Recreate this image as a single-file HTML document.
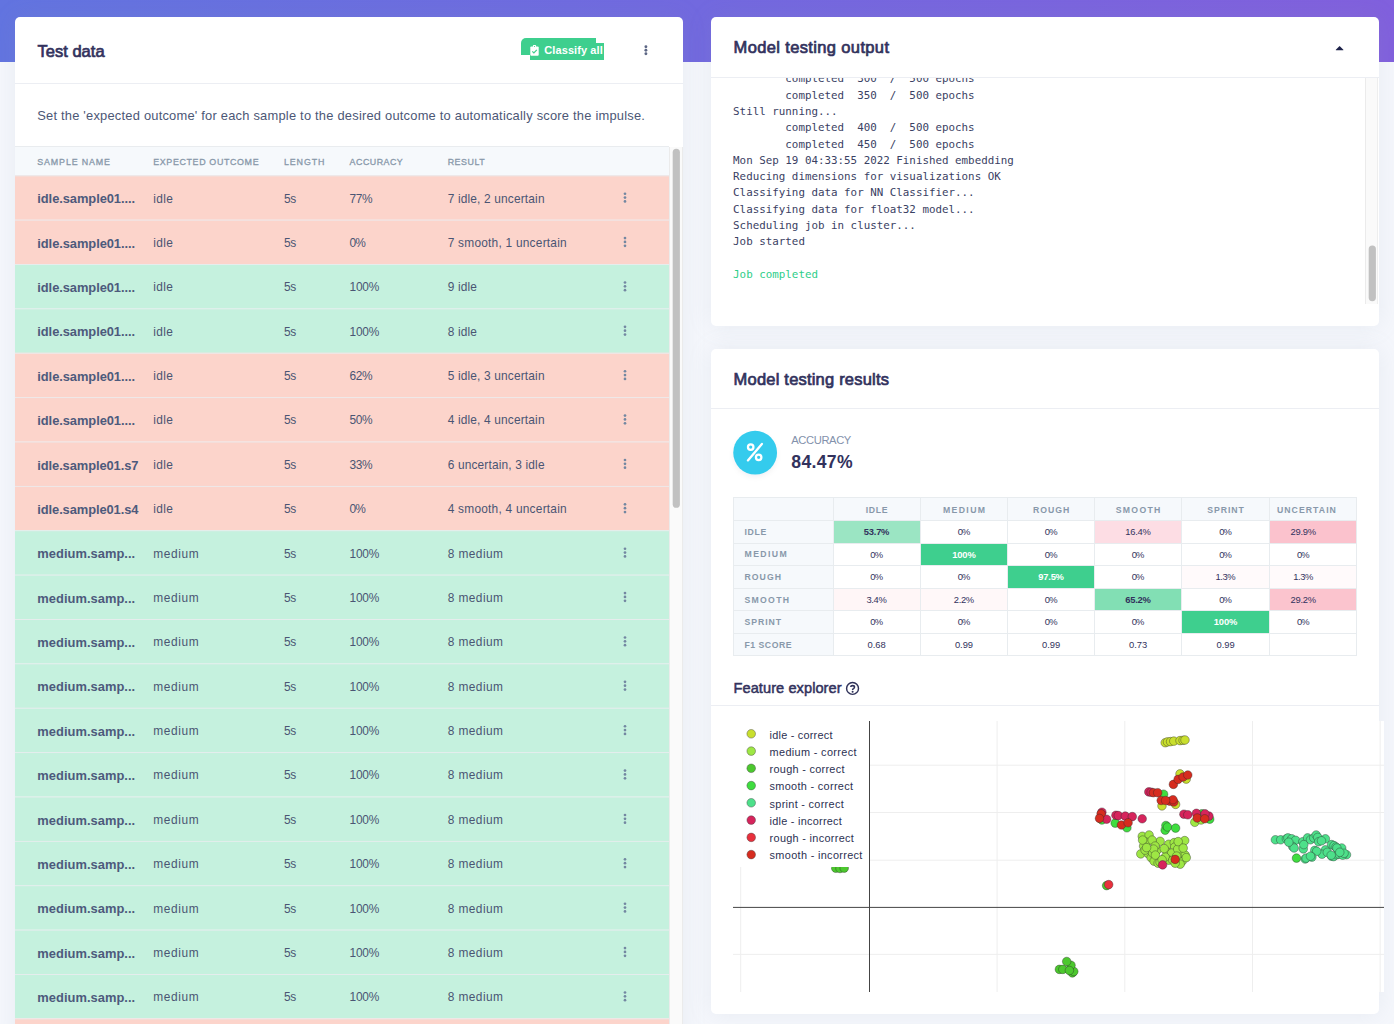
<!DOCTYPE html>
<html lang="en">
<head>
<meta charset="utf-8">
<title>Model testing</title>
<style>
*{box-sizing:border-box;margin:0;padding:0}
html,body{width:1394px;height:1024px;overflow:hidden}
body{position:relative;background:#f5f7fc;font-family:"Liberation Sans",sans-serif;color:#525f7f}
.hero{position:absolute;left:0;top:0;width:1394px;height:62.2px;background:linear-gradient(90deg,#6274e0 0%,#7269df 50%,#8160dd 100%)}
.card{position:absolute;background:#fff;border-radius:5px;box-shadow:0 0 24px 0 rgba(136,152,170,.13)}
.t{position:absolute;white-space:pre;line-height:1;display:block}
.m{font-family:"DejaVu Sans Mono","Liberation Mono",monospace}
.hr{position:absolute;height:1px;background:#eceef3}
.abs{position:absolute}
</style>
</head>
<body>
<div class="hero"></div>

<div class="card" style="left:15px;top:17px;width:668px;height:1030px;border-radius:5px 5px 0 0"></div>
<span class="t" style="left:37.60px;top:43px;font-size:16.5px;color:#32325d;-webkit-text-stroke:0.7px #32325d;">Test data</span>
<div class="abs" style="left:521px;top:38px;width:75px;height:17px;background:#3ecf8e;border-radius:5px 0 0 0"></div>
<div class="abs" style="left:529.5px;top:42.6px;width:74.5px;height:17px;background:#3ecf8e"></div>
<svg class="abs" style="left:530px;top:44.5px" width="9" height="11" viewBox="0 0 9 11"><rect x="0.3" y="1.4" width="8.4" height="9.3" rx="1" fill="#fff"/><rect x="2.9" y="0" width="3.2" height="2.6" rx="0.8" fill="#fff"/><circle cx="4.5" cy="1.5" r="0.6" fill="#3ecf8e"/><path d="M2.3 6.3 L3.9 7.9 L6.8 4.8" fill="none" stroke="#3ecf8e" stroke-width="1.2"/></svg>
<span class="t" style="left:544.30px;top:45px;font-size:11px;color:#fff;font-weight:700;letter-spacing:0.092px;">Classify all</span>
<svg class="abs" style="left:642px;top:43px" width="8" height="14" viewBox="0 0 8 14"><g fill="#5d6785"><circle cx="3.9" cy="3.7" r="1.45"/><circle cx="3.9" cy="7.2" r="1.45"/><circle cx="3.9" cy="10.7" r="1.45"/></g></svg>
<div class="hr" style="left:15px;top:82.7px;width:668px"></div>
<span class="t" style="left:37.20px;top:110px;font-size:12.9px;color:#4c5776;letter-spacing:0.217px;">Set the &#x27;expected outcome&#x27; for each sample to the desired outcome to automatically score the impulse.</span>
<div class="abs" style="left:15px;top:146px;width:654.3px;height:30px;background:#f6f9fc;border-top:1px solid #e9ecef"></div>
<span class="t" style="left:37.30px;top:158px;font-size:8.9px;color:#8898aa;-webkit-text-stroke:0.3px #8898aa;letter-spacing:0.858px;">SAMPLE NAME</span>
<span class="t" style="left:153.20px;top:158px;font-size:8.9px;color:#8898aa;-webkit-text-stroke:0.3px #8898aa;letter-spacing:0.649px;">EXPECTED OUTCOME</span>
<span class="t" style="left:284.00px;top:158px;font-size:8.9px;color:#8898aa;-webkit-text-stroke:0.3px #8898aa;letter-spacing:0.880px;">LENGTH</span>
<span class="t" style="left:349.60px;top:158px;font-size:8.9px;color:#8898aa;-webkit-text-stroke:0.3px #8898aa;letter-spacing:0.484px;">ACCURACY</span>
<span class="t" style="left:447.70px;top:158px;font-size:8.9px;color:#8898aa;-webkit-text-stroke:0.3px #8898aa;letter-spacing:0.508px;">RESULT</span>
<svg class="abs" style="left:15px;top:170px" width="654.3" height="854" viewBox="15 170 654.3 854"><rect x="15" y="175.30" width="654.3" height="44.474" fill="#fcd4cb"/><rect x="15" y="175.30" width="654.3" height="1" fill="#e9ecef"/><g fill="#7387a1"><circle cx="625" cy="193.75" r="1.35"/><circle cx="625" cy="197.60" r="1.35"/><circle cx="625" cy="201.45" r="1.35"/></g><rect x="15" y="219.67" width="654.3" height="44.474" fill="#fcd4cb"/><rect x="15" y="219.67" width="654.3" height="0.92" fill="rgba(234,237,240,.92)"/><g fill="#7387a1"><circle cx="625" cy="238.12" r="1.35"/><circle cx="625" cy="241.97" r="1.35"/><circle cx="625" cy="245.82" r="1.35"/></g><rect x="15" y="264.05" width="654.3" height="44.474" fill="#c5f1de"/><rect x="15" y="264.05" width="654.3" height="0.92" fill="rgba(234,237,240,.92)"/><g fill="#7387a1"><circle cx="625" cy="282.50" r="1.35"/><circle cx="625" cy="286.35" r="1.35"/><circle cx="625" cy="290.20" r="1.35"/></g><rect x="15" y="308.42" width="654.3" height="44.474" fill="#c5f1de"/><rect x="15" y="308.42" width="654.3" height="0.92" fill="rgba(234,237,240,.92)"/><g fill="#7387a1"><circle cx="625" cy="326.87" r="1.35"/><circle cx="625" cy="330.72" r="1.35"/><circle cx="625" cy="334.57" r="1.35"/></g><rect x="15" y="352.80" width="654.3" height="44.474" fill="#fcd4cb"/><rect x="15" y="352.80" width="654.3" height="0.92" fill="rgba(234,237,240,.92)"/><g fill="#7387a1"><circle cx="625" cy="371.25" r="1.35"/><circle cx="625" cy="375.10" r="1.35"/><circle cx="625" cy="378.95" r="1.35"/></g><rect x="15" y="397.17" width="654.3" height="44.474" fill="#fcd4cb"/><rect x="15" y="397.17" width="654.3" height="0.92" fill="rgba(234,237,240,.92)"/><g fill="#7387a1"><circle cx="625" cy="415.62" r="1.35"/><circle cx="625" cy="419.47" r="1.35"/><circle cx="625" cy="423.32" r="1.35"/></g><rect x="15" y="441.54" width="654.3" height="44.474" fill="#fcd4cb"/><rect x="15" y="441.54" width="654.3" height="0.92" fill="rgba(234,237,240,.92)"/><g fill="#7387a1"><circle cx="625" cy="459.99" r="1.35"/><circle cx="625" cy="463.84" r="1.35"/><circle cx="625" cy="467.69" r="1.35"/></g><rect x="15" y="485.92" width="654.3" height="44.474" fill="#fcd4cb"/><rect x="15" y="485.92" width="654.3" height="0.92" fill="rgba(234,237,240,.92)"/><g fill="#7387a1"><circle cx="625" cy="504.37" r="1.35"/><circle cx="625" cy="508.22" r="1.35"/><circle cx="625" cy="512.07" r="1.35"/></g><rect x="15" y="530.29" width="654.3" height="44.474" fill="#c5f1de"/><rect x="15" y="530.29" width="654.3" height="0.92" fill="rgba(234,237,240,.92)"/><g fill="#7387a1"><circle cx="625" cy="548.74" r="1.35"/><circle cx="625" cy="552.59" r="1.35"/><circle cx="625" cy="556.44" r="1.35"/></g><rect x="15" y="574.67" width="654.3" height="44.474" fill="#c5f1de"/><rect x="15" y="574.67" width="654.3" height="0.92" fill="rgba(234,237,240,.92)"/><g fill="#7387a1"><circle cx="625" cy="593.12" r="1.35"/><circle cx="625" cy="596.97" r="1.35"/><circle cx="625" cy="600.82" r="1.35"/></g><rect x="15" y="619.04" width="654.3" height="44.474" fill="#c5f1de"/><rect x="15" y="619.04" width="654.3" height="0.92" fill="rgba(234,237,240,.92)"/><g fill="#7387a1"><circle cx="625" cy="637.49" r="1.35"/><circle cx="625" cy="641.34" r="1.35"/><circle cx="625" cy="645.19" r="1.35"/></g><rect x="15" y="663.41" width="654.3" height="44.474" fill="#c5f1de"/><rect x="15" y="663.41" width="654.3" height="0.92" fill="rgba(234,237,240,.92)"/><g fill="#7387a1"><circle cx="625" cy="681.86" r="1.35"/><circle cx="625" cy="685.71" r="1.35"/><circle cx="625" cy="689.56" r="1.35"/></g><rect x="15" y="707.79" width="654.3" height="44.474" fill="#c5f1de"/><rect x="15" y="707.79" width="654.3" height="0.92" fill="rgba(234,237,240,.92)"/><g fill="#7387a1"><circle cx="625" cy="726.24" r="1.35"/><circle cx="625" cy="730.09" r="1.35"/><circle cx="625" cy="733.94" r="1.35"/></g><rect x="15" y="752.16" width="654.3" height="44.474" fill="#c5f1de"/><rect x="15" y="752.16" width="654.3" height="0.92" fill="rgba(234,237,240,.92)"/><g fill="#7387a1"><circle cx="625" cy="770.61" r="1.35"/><circle cx="625" cy="774.46" r="1.35"/><circle cx="625" cy="778.31" r="1.35"/></g><rect x="15" y="796.54" width="654.3" height="44.474" fill="#c5f1de"/><rect x="15" y="796.54" width="654.3" height="0.92" fill="rgba(234,237,240,.92)"/><g fill="#7387a1"><circle cx="625" cy="814.99" r="1.35"/><circle cx="625" cy="818.84" r="1.35"/><circle cx="625" cy="822.69" r="1.35"/></g><rect x="15" y="840.91" width="654.3" height="44.474" fill="#c5f1de"/><rect x="15" y="840.91" width="654.3" height="0.92" fill="rgba(234,237,240,.92)"/><g fill="#7387a1"><circle cx="625" cy="859.36" r="1.35"/><circle cx="625" cy="863.21" r="1.35"/><circle cx="625" cy="867.06" r="1.35"/></g><rect x="15" y="885.28" width="654.3" height="44.474" fill="#c5f1de"/><rect x="15" y="885.28" width="654.3" height="0.92" fill="rgba(234,237,240,.92)"/><g fill="#7387a1"><circle cx="625" cy="903.73" r="1.35"/><circle cx="625" cy="907.58" r="1.35"/><circle cx="625" cy="911.43" r="1.35"/></g><rect x="15" y="929.66" width="654.3" height="44.474" fill="#c5f1de"/><rect x="15" y="929.66" width="654.3" height="0.92" fill="rgba(234,237,240,.92)"/><g fill="#7387a1"><circle cx="625" cy="948.11" r="1.35"/><circle cx="625" cy="951.96" r="1.35"/><circle cx="625" cy="955.81" r="1.35"/></g><rect x="15" y="974.03" width="654.3" height="44.474" fill="#c5f1de"/><rect x="15" y="974.03" width="654.3" height="0.92" fill="rgba(234,237,240,.92)"/><g fill="#7387a1"><circle cx="625" cy="992.48" r="1.35"/><circle cx="625" cy="996.33" r="1.35"/><circle cx="625" cy="1000.18" r="1.35"/></g><rect x="15" y="1018.41" width="654.3" height="44.474" fill="#fcd4cb"/><rect x="15" y="1018.41" width="654.3" height="0.92" fill="rgba(234,237,240,.92)"/></svg>
<span class="t" style="left:37.30px;top:193px;font-size:12.9px;color:#4d5a7c;font-weight:700;letter-spacing:-0.068px;">idle.sample01....</span>
<span class="t" style="left:153.20px;top:194px;font-size:11.9px;color:#4a5573;letter-spacing:0.362px;">idle</span>
<span class="t" style="left:284.00px;top:194px;font-size:11.9px;color:#4a5573;letter-spacing:-0.323px;">5s</span>
<span class="t" style="left:349.60px;top:194px;font-size:11.9px;color:#4a5573;letter-spacing:-0.430px;">77%</span>
<span class="t" style="left:447.70px;top:194px;font-size:11.9px;color:#4a5573;letter-spacing:0.164px;">7 idle, 2 uncertain</span>
<span class="t" style="left:37.30px;top:238px;font-size:12.9px;color:#4d5a7c;font-weight:700;letter-spacing:-0.068px;">idle.sample01....</span>
<span class="t" style="left:153.20px;top:238px;font-size:11.9px;color:#4a5573;letter-spacing:0.362px;">idle</span>
<span class="t" style="left:284.00px;top:238px;font-size:11.9px;color:#4a5573;letter-spacing:-0.323px;">5s</span>
<span class="t" style="left:349.60px;top:238px;font-size:11.9px;color:#4a5573;letter-spacing:-0.908px;">0%</span>
<span class="t" style="left:447.70px;top:238px;font-size:11.9px;color:#4a5573;letter-spacing:0.233px;">7 smooth, 1 uncertain</span>
<span class="t" style="left:37.30px;top:282px;font-size:12.9px;color:#4d5a7c;font-weight:700;letter-spacing:-0.068px;">idle.sample01....</span>
<span class="t" style="left:153.20px;top:282px;font-size:11.9px;color:#4a5573;letter-spacing:0.362px;">idle</span>
<span class="t" style="left:284.00px;top:282px;font-size:11.9px;color:#4a5573;letter-spacing:-0.323px;">5s</span>
<span class="t" style="left:349.60px;top:282px;font-size:11.9px;color:#4a5573;letter-spacing:-0.266px;">100%</span>
<span class="t" style="left:447.70px;top:282px;font-size:11.9px;color:#4a5573;letter-spacing:0.174px;">9 idle</span>
<span class="t" style="left:37.30px;top:326px;font-size:12.9px;color:#4d5a7c;font-weight:700;letter-spacing:-0.068px;">idle.sample01....</span>
<span class="t" style="left:153.20px;top:327px;font-size:11.9px;color:#4a5573;letter-spacing:0.362px;">idle</span>
<span class="t" style="left:284.00px;top:327px;font-size:11.9px;color:#4a5573;letter-spacing:-0.323px;">5s</span>
<span class="t" style="left:349.60px;top:327px;font-size:11.9px;color:#4a5573;letter-spacing:-0.266px;">100%</span>
<span class="t" style="left:447.70px;top:327px;font-size:11.9px;color:#4a5573;letter-spacing:0.174px;">8 idle</span>
<span class="t" style="left:37.30px;top:371px;font-size:12.9px;color:#4d5a7c;font-weight:700;letter-spacing:-0.068px;">idle.sample01....</span>
<span class="t" style="left:153.20px;top:371px;font-size:11.9px;color:#4a5573;letter-spacing:0.362px;">idle</span>
<span class="t" style="left:284.00px;top:371px;font-size:11.9px;color:#4a5573;letter-spacing:-0.323px;">5s</span>
<span class="t" style="left:349.60px;top:371px;font-size:11.9px;color:#4a5573;letter-spacing:-0.430px;">62%</span>
<span class="t" style="left:447.70px;top:371px;font-size:11.9px;color:#4a5573;letter-spacing:0.164px;">5 idle, 3 uncertain</span>
<span class="t" style="left:37.30px;top:415px;font-size:12.9px;color:#4d5a7c;font-weight:700;letter-spacing:-0.068px;">idle.sample01....</span>
<span class="t" style="left:153.20px;top:415px;font-size:11.9px;color:#4a5573;letter-spacing:0.362px;">idle</span>
<span class="t" style="left:284.00px;top:415px;font-size:11.9px;color:#4a5573;letter-spacing:-0.323px;">5s</span>
<span class="t" style="left:349.60px;top:415px;font-size:11.9px;color:#4a5573;letter-spacing:-0.430px;">50%</span>
<span class="t" style="left:447.70px;top:415px;font-size:11.9px;color:#4a5573;letter-spacing:0.164px;">4 idle, 4 uncertain</span>
<span class="t" style="left:37.30px;top:460px;font-size:12.9px;color:#4d5a7c;font-weight:700;letter-spacing:-0.092px;">idle.sample01.s7</span>
<span class="t" style="left:153.20px;top:460px;font-size:11.9px;color:#4a5573;letter-spacing:0.362px;">idle</span>
<span class="t" style="left:284.00px;top:460px;font-size:11.9px;color:#4a5573;letter-spacing:-0.323px;">5s</span>
<span class="t" style="left:349.60px;top:460px;font-size:11.9px;color:#4a5573;letter-spacing:-0.430px;">33%</span>
<span class="t" style="left:447.70px;top:460px;font-size:11.9px;color:#4a5573;letter-spacing:0.164px;">6 uncertain, 3 idle</span>
<span class="t" style="left:37.30px;top:504px;font-size:12.9px;color:#4d5a7c;font-weight:700;letter-spacing:-0.092px;">idle.sample01.s4</span>
<span class="t" style="left:153.20px;top:504px;font-size:11.9px;color:#4a5573;letter-spacing:0.362px;">idle</span>
<span class="t" style="left:284.00px;top:504px;font-size:11.9px;color:#4a5573;letter-spacing:-0.323px;">5s</span>
<span class="t" style="left:349.60px;top:504px;font-size:11.9px;color:#4a5573;letter-spacing:-0.908px;">0%</span>
<span class="t" style="left:447.70px;top:504px;font-size:11.9px;color:#4a5573;letter-spacing:0.233px;">4 smooth, 4 uncertain</span>
<span class="t" style="left:37.30px;top:548px;font-size:12.9px;color:#4d5a7c;font-weight:700;letter-spacing:0.028px;">medium.samp...</span>
<span class="t" style="left:153.20px;top:549px;font-size:11.9px;color:#4a5573;letter-spacing:0.645px;">medium</span>
<span class="t" style="left:284.00px;top:549px;font-size:11.9px;color:#4a5573;letter-spacing:-0.323px;">5s</span>
<span class="t" style="left:349.60px;top:549px;font-size:11.9px;color:#4a5573;letter-spacing:-0.266px;">100%</span>
<span class="t" style="left:447.70px;top:549px;font-size:11.9px;color:#4a5573;letter-spacing:0.430px;">8 medium</span>
<span class="t" style="left:37.30px;top:593px;font-size:12.9px;color:#4d5a7c;font-weight:700;letter-spacing:0.028px;">medium.samp...</span>
<span class="t" style="left:153.20px;top:593px;font-size:11.9px;color:#4a5573;letter-spacing:0.645px;">medium</span>
<span class="t" style="left:284.00px;top:593px;font-size:11.9px;color:#4a5573;letter-spacing:-0.323px;">5s</span>
<span class="t" style="left:349.60px;top:593px;font-size:11.9px;color:#4a5573;letter-spacing:-0.266px;">100%</span>
<span class="t" style="left:447.70px;top:593px;font-size:11.9px;color:#4a5573;letter-spacing:0.430px;">8 medium</span>
<span class="t" style="left:37.30px;top:637px;font-size:12.9px;color:#4d5a7c;font-weight:700;letter-spacing:0.028px;">medium.samp...</span>
<span class="t" style="left:153.20px;top:637px;font-size:11.9px;color:#4a5573;letter-spacing:0.645px;">medium</span>
<span class="t" style="left:284.00px;top:637px;font-size:11.9px;color:#4a5573;letter-spacing:-0.323px;">5s</span>
<span class="t" style="left:349.60px;top:637px;font-size:11.9px;color:#4a5573;letter-spacing:-0.266px;">100%</span>
<span class="t" style="left:447.70px;top:637px;font-size:11.9px;color:#4a5573;letter-spacing:0.430px;">8 medium</span>
<span class="t" style="left:37.30px;top:681px;font-size:12.9px;color:#4d5a7c;font-weight:700;letter-spacing:0.028px;">medium.samp...</span>
<span class="t" style="left:153.20px;top:682px;font-size:11.9px;color:#4a5573;letter-spacing:0.645px;">medium</span>
<span class="t" style="left:284.00px;top:682px;font-size:11.9px;color:#4a5573;letter-spacing:-0.323px;">5s</span>
<span class="t" style="left:349.60px;top:682px;font-size:11.9px;color:#4a5573;letter-spacing:-0.266px;">100%</span>
<span class="t" style="left:447.70px;top:682px;font-size:11.9px;color:#4a5573;letter-spacing:0.430px;">8 medium</span>
<span class="t" style="left:37.30px;top:726px;font-size:12.9px;color:#4d5a7c;font-weight:700;letter-spacing:0.028px;">medium.samp...</span>
<span class="t" style="left:153.20px;top:726px;font-size:11.9px;color:#4a5573;letter-spacing:0.645px;">medium</span>
<span class="t" style="left:284.00px;top:726px;font-size:11.9px;color:#4a5573;letter-spacing:-0.323px;">5s</span>
<span class="t" style="left:349.60px;top:726px;font-size:11.9px;color:#4a5573;letter-spacing:-0.266px;">100%</span>
<span class="t" style="left:447.70px;top:726px;font-size:11.9px;color:#4a5573;letter-spacing:0.430px;">8 medium</span>
<span class="t" style="left:37.30px;top:770px;font-size:12.9px;color:#4d5a7c;font-weight:700;letter-spacing:0.028px;">medium.samp...</span>
<span class="t" style="left:153.20px;top:770px;font-size:11.9px;color:#4a5573;letter-spacing:0.645px;">medium</span>
<span class="t" style="left:284.00px;top:770px;font-size:11.9px;color:#4a5573;letter-spacing:-0.323px;">5s</span>
<span class="t" style="left:349.60px;top:770px;font-size:11.9px;color:#4a5573;letter-spacing:-0.266px;">100%</span>
<span class="t" style="left:447.70px;top:770px;font-size:11.9px;color:#4a5573;letter-spacing:0.430px;">8 medium</span>
<span class="t" style="left:37.30px;top:815px;font-size:12.9px;color:#4d5a7c;font-weight:700;letter-spacing:0.028px;">medium.samp...</span>
<span class="t" style="left:153.20px;top:815px;font-size:11.9px;color:#4a5573;letter-spacing:0.645px;">medium</span>
<span class="t" style="left:284.00px;top:815px;font-size:11.9px;color:#4a5573;letter-spacing:-0.323px;">5s</span>
<span class="t" style="left:349.60px;top:815px;font-size:11.9px;color:#4a5573;letter-spacing:-0.266px;">100%</span>
<span class="t" style="left:447.70px;top:815px;font-size:11.9px;color:#4a5573;letter-spacing:0.430px;">8 medium</span>
<span class="t" style="left:37.30px;top:859px;font-size:12.9px;color:#4d5a7c;font-weight:700;letter-spacing:0.028px;">medium.samp...</span>
<span class="t" style="left:153.20px;top:859px;font-size:11.9px;color:#4a5573;letter-spacing:0.645px;">medium</span>
<span class="t" style="left:284.00px;top:859px;font-size:11.9px;color:#4a5573;letter-spacing:-0.323px;">5s</span>
<span class="t" style="left:349.60px;top:859px;font-size:11.9px;color:#4a5573;letter-spacing:-0.266px;">100%</span>
<span class="t" style="left:447.70px;top:859px;font-size:11.9px;color:#4a5573;letter-spacing:0.430px;">8 medium</span>
<span class="t" style="left:37.30px;top:903px;font-size:12.9px;color:#4d5a7c;font-weight:700;letter-spacing:0.028px;">medium.samp...</span>
<span class="t" style="left:153.20px;top:904px;font-size:11.9px;color:#4a5573;letter-spacing:0.645px;">medium</span>
<span class="t" style="left:284.00px;top:904px;font-size:11.9px;color:#4a5573;letter-spacing:-0.323px;">5s</span>
<span class="t" style="left:349.60px;top:904px;font-size:11.9px;color:#4a5573;letter-spacing:-0.266px;">100%</span>
<span class="t" style="left:447.70px;top:904px;font-size:11.9px;color:#4a5573;letter-spacing:0.430px;">8 medium</span>
<span class="t" style="left:37.30px;top:948px;font-size:12.9px;color:#4d5a7c;font-weight:700;letter-spacing:0.028px;">medium.samp...</span>
<span class="t" style="left:153.20px;top:948px;font-size:11.9px;color:#4a5573;letter-spacing:0.645px;">medium</span>
<span class="t" style="left:284.00px;top:948px;font-size:11.9px;color:#4a5573;letter-spacing:-0.323px;">5s</span>
<span class="t" style="left:349.60px;top:948px;font-size:11.9px;color:#4a5573;letter-spacing:-0.266px;">100%</span>
<span class="t" style="left:447.70px;top:948px;font-size:11.9px;color:#4a5573;letter-spacing:0.430px;">8 medium</span>
<span class="t" style="left:37.30px;top:992px;font-size:12.9px;color:#4d5a7c;font-weight:700;letter-spacing:0.028px;">medium.samp...</span>
<span class="t" style="left:153.20px;top:992px;font-size:11.9px;color:#4a5573;letter-spacing:0.645px;">medium</span>
<span class="t" style="left:284.00px;top:992px;font-size:11.9px;color:#4a5573;letter-spacing:-0.323px;">5s</span>
<span class="t" style="left:349.60px;top:992px;font-size:11.9px;color:#4a5573;letter-spacing:-0.266px;">100%</span>
<span class="t" style="left:447.70px;top:992px;font-size:11.9px;color:#4a5573;letter-spacing:0.430px;">8 medium</span>
<div class="abs" style="left:669.4px;top:146.6px;width:13.4px;height:900px;background:#fafafa;border-left:1px solid #ebebeb;border-right:1px solid #ebebeb"></div>
<svg class="abs" style="left:669px;top:146px" width="14" height="364" viewBox="669 146 14 364"><rect x="672.7" y="148.75" width="7.2" height="359" rx="3.6" fill="#c1c1c1"/></svg>
<div class="card" style="left:711px;top:17px;width:668.4px;height:308.8px"></div>
<span class="t" style="left:733.60px;top:39px;font-size:16.5px;color:#32325d;-webkit-text-stroke:0.7px #32325d;letter-spacing:0.357px;">Model testing output</span>
<svg class="abs" style="left:1335px;top:45px" width="9" height="6" viewBox="-0.6 -0.4 9 6"><path d="M0.2 4.4 L4 0.5 L7.8 4.4 Q7.9 4.9 7.4 4.9 L0.6 4.9 Q0.1 4.9 0.2 4.4Z" fill="#1d2249"/></svg>
<div class="hr" style="left:711px;top:77.2px;width:668.4px"></div>
<div class="abs" style="left:711px;top:78px;width:654px;height:225.7px;overflow:hidden">
<span class="t m" style="left:22.1px;top:-4px;font-size:10.85px;color:#3a4163">        completed  300  /  500 epochs</span>
<span class="t m" style="left:22.1px;top:13px;font-size:10.85px;color:#3a4163">        completed  350  /  500 epochs</span>
<span class="t m" style="left:22.1px;top:29px;font-size:10.85px;color:#3a4163">Still running...</span>
<span class="t m" style="left:22.1px;top:45px;font-size:10.85px;color:#3a4163">        completed  400  /  500 epochs</span>
<span class="t m" style="left:22.1px;top:62px;font-size:10.85px;color:#3a4163">        completed  450  /  500 epochs</span>
<span class="t m" style="left:22.1px;top:78px;font-size:10.85px;color:#3a4163">Mon Sep 19 04:33:55 2022 Finished embedding</span>
<span class="t m" style="left:22.1px;top:94px;font-size:10.85px;color:#3a4163">Reducing dimensions for visualizations OK</span>
<span class="t m" style="left:22.1px;top:110px;font-size:10.85px;color:#3a4163">Classifying data for NN Classifier...</span>
<span class="t m" style="left:22.1px;top:127px;font-size:10.85px;color:#3a4163">Classifying data for float32 model...</span>
<span class="t m" style="left:22.1px;top:143px;font-size:10.85px;color:#3a4163">Scheduling job in cluster...</span>
<span class="t m" style="left:22.1px;top:159px;font-size:10.85px;color:#3a4163">Job started</span>
<span class="t m" style="left:22.1px;top:192px;font-size:10.85px;color:#2dce89">Job completed</span>
</div>
<div class="abs" style="left:1365px;top:78.2px;width:13.4px;height:225.5px;background:#fafafa;border-left:1px solid #ebebeb;border-right:1px solid #eee"></div>
<svg class="abs" style="left:1366px;top:240px" width="13" height="66" viewBox="1366 240 13 66"><rect x="1368.7" y="245.4" width="7.2" height="55.8" rx="3.6" fill="#c1c1c1"/></svg>
<div class="card" style="left:711px;top:349.2px;width:668.4px;height:664.4px"></div>
<span class="t" style="left:733.60px;top:371px;font-size:16.5px;color:#32325d;-webkit-text-stroke:0.7px #32325d;letter-spacing:0.204px;">Model testing results</span>
<div class="hr" style="left:711px;top:407.7px;width:668.4px"></div>
<svg class="abs" style="left:725px;top:423px" width="62" height="62" viewBox="725 423 62 62"><defs><filter id="sh" x="-40%" y="-40%" width="180%" height="180%"><feGaussianBlur stdDeviation="3.2"/></filter></defs><circle cx="755.1" cy="455.5" r="20" fill="rgba(50,50,93,.09)" filter="url(#sh)"/><circle cx="755.15" cy="452.7" r="21.9" fill="#34cbed"/><g fill="none" stroke="#fff" stroke-width="2.25"><circle cx="750.7" cy="447" r="2.75"/><circle cx="758.65" cy="457.3" r="2.75"/><path d="M761.9 443.9 L747.9 460.4" stroke-linecap="round" stroke-width="2.3"/></g></svg>
<span class="t" style="left:791.30px;top:435px;font-size:11.2px;color:#8391ab;letter-spacing:-0.400px;">ACCURACY</span>
<span class="t" style="left:791.30px;top:454px;font-size:17.6px;color:#32325d;font-weight:700;letter-spacing:0.326px;">84.47%</span>
<div class="abs" style="left:733.4px;top:497.6px;width:623.2px;height:22.9px;background:#f6f9fc"></div>
<div class="abs" style="left:733.4px;top:497.6px;width:99.7px;height:158.3px;background:#f6f9fc"></div>
<div class="abs" style="left:833.6px;top:521.0px;width:87.1px;height:22.5px;background:#9be5c3"></div>
<div class="abs" style="left:1095.0px;top:521.0px;width:87.1px;height:22.5px;background:#fddde4"></div>
<div class="abs" style="left:1270.0px;top:521.0px;width:87.1px;height:22.5px;background:#fbc2cd"></div>
<div class="abs" style="left:920.7px;top:543.5px;width:87.6px;height:22.7px;background:#3ecf8e"></div>
<div class="abs" style="left:1008.3px;top:566.2px;width:86.7px;height:22.4px;background:#3ecf8e"></div>
<div class="abs" style="left:1182.1px;top:566.2px;width:87.9px;height:22.4px;background:#fffafb"></div>
<div class="abs" style="left:1270.0px;top:566.2px;width:87.1px;height:22.4px;background:#fffafb"></div>
<div class="abs" style="left:833.6px;top:588.6px;width:87.1px;height:22.4px;background:#fff6f7"></div>
<div class="abs" style="left:920.7px;top:588.6px;width:87.6px;height:22.4px;background:#fff8f9"></div>
<div class="abs" style="left:1095.0px;top:588.6px;width:87.1px;height:22.4px;background:#82dfb4"></div>
<div class="abs" style="left:1270.0px;top:588.6px;width:87.1px;height:22.4px;background:#fbc4ce"></div>
<div class="abs" style="left:1182.1px;top:611.0px;width:87.9px;height:22.7px;background:#3ecf8e"></div>
<div class="abs" style="left:732.9px;top:497.1px;width:1px;height:159.3px;background:#e8ecef"></div>
<div class="abs" style="left:832.6px;top:497.1px;width:1px;height:159.3px;background:#e8ecef"></div>
<div class="abs" style="left:919.7px;top:497.1px;width:1px;height:159.3px;background:#e8ecef"></div>
<div class="abs" style="left:1007.3px;top:497.1px;width:1px;height:159.3px;background:#e8ecef"></div>
<div class="abs" style="left:1094.0px;top:497.1px;width:1px;height:159.3px;background:#e8ecef"></div>
<div class="abs" style="left:1181.1px;top:497.1px;width:1px;height:159.3px;background:#e8ecef"></div>
<div class="abs" style="left:1269.0px;top:497.1px;width:1px;height:159.3px;background:#e8ecef"></div>
<div class="abs" style="left:1356.1px;top:497.1px;width:1px;height:159.3px;background:#e8ecef"></div>
<div class="abs" style="left:732.9px;top:497.1px;width:624.2px;height:1px;background:#e8ecef"></div>
<div class="abs" style="left:732.9px;top:520.0px;width:624.2px;height:1px;background:#e8ecef"></div>
<div class="abs" style="left:732.9px;top:542.5px;width:624.2px;height:1px;background:#e8ecef"></div>
<div class="abs" style="left:732.9px;top:565.2px;width:624.2px;height:1px;background:#e8ecef"></div>
<div class="abs" style="left:732.9px;top:587.6px;width:624.2px;height:1px;background:#e8ecef"></div>
<div class="abs" style="left:732.9px;top:610.0px;width:624.2px;height:1px;background:#e8ecef"></div>
<div class="abs" style="left:732.9px;top:632.7px;width:624.2px;height:1px;background:#e8ecef"></div>
<div class="abs" style="left:732.9px;top:655.4px;width:624.2px;height:1px;background:#e8ecef"></div>
<span class="t" style="left:865.70px;top:506px;font-size:8.7px;color:#8898aa;font-weight:700;letter-spacing:0.701px;">IDLE</span>
<span class="t" style="left:942.90px;top:506px;font-size:8.7px;color:#8898aa;font-weight:700;letter-spacing:1.393px;">MEDIUM</span>
<span class="t" style="left:1032.90px;top:506px;font-size:8.7px;color:#8898aa;font-weight:700;letter-spacing:1.039px;">ROUGH</span>
<span class="t" style="left:1115.80px;top:506px;font-size:8.7px;color:#8898aa;font-weight:700;letter-spacing:1.272px;">SMOOTH</span>
<span class="t" style="left:1207.30px;top:506px;font-size:8.7px;color:#8898aa;font-weight:700;letter-spacing:0.928px;">SPRINT</span>
<span class="t" style="left:1276.90px;top:506px;font-size:8.7px;color:#8898aa;font-weight:700;letter-spacing:1.061px;">UNCERTAIN</span>
<span class="t" style="left:744.50px;top:528px;font-size:8.7px;color:#8898aa;font-weight:700;letter-spacing:0.701px;">IDLE</span>
<span class="t" style="left:744.50px;top:550px;font-size:8.7px;color:#8898aa;font-weight:700;letter-spacing:1.393px;">MEDIUM</span>
<span class="t" style="left:744.50px;top:573px;font-size:8.7px;color:#8898aa;font-weight:700;letter-spacing:1.039px;">ROUGH</span>
<span class="t" style="left:744.50px;top:596px;font-size:8.7px;color:#8898aa;font-weight:700;letter-spacing:1.272px;">SMOOTH</span>
<span class="t" style="left:744.50px;top:618px;font-size:8.7px;color:#8898aa;font-weight:700;letter-spacing:0.928px;">SPRINT</span>
<span class="t" style="left:744.50px;top:641px;font-size:8.7px;color:#8898aa;font-weight:700;letter-spacing:0.507px;">F1 SCORE</span>
<span class="t" style="left:863.85px;top:527px;font-size:9.4px;color:#32325d;font-weight:700;letter-spacing:-0.248px;">53.7%</span>
<span class="t" style="left:957.65px;top:527px;font-size:9.4px;color:#32325d;letter-spacing:-0.863px;">0%</span>
<span class="t" style="left:1044.80px;top:527px;font-size:9.4px;color:#32325d;letter-spacing:-0.863px;">0%</span>
<span class="t" style="left:1125.25px;top:527px;font-size:9.4px;color:#32325d;letter-spacing:-0.248px;">16.4%</span>
<span class="t" style="left:1219.20px;top:527px;font-size:9.4px;color:#32325d;letter-spacing:-0.863px;">0%</span>
<span class="t" style="left:1290.50px;top:527px;font-size:9.4px;color:#32325d;letter-spacing:-0.248px;">29.9%</span>
<span class="t" style="left:870.30px;top:550px;font-size:9.4px;color:#32325d;letter-spacing:-0.863px;">0%</span>
<span class="t" style="left:952.25px;top:550px;font-size:9.4px;color:#fff;font-weight:700;letter-spacing:-0.161px;">100%</span>
<span class="t" style="left:1044.80px;top:550px;font-size:9.4px;color:#32325d;letter-spacing:-0.863px;">0%</span>
<span class="t" style="left:1131.70px;top:550px;font-size:9.4px;color:#32325d;letter-spacing:-0.863px;">0%</span>
<span class="t" style="left:1219.20px;top:550px;font-size:9.4px;color:#32325d;letter-spacing:-0.863px;">0%</span>
<span class="t" style="left:1296.95px;top:550px;font-size:9.4px;color:#32325d;letter-spacing:-0.863px;">0%</span>
<span class="t" style="left:870.30px;top:572px;font-size:9.4px;color:#32325d;letter-spacing:-0.863px;">0%</span>
<span class="t" style="left:957.65px;top:572px;font-size:9.4px;color:#32325d;letter-spacing:-0.863px;">0%</span>
<span class="t" style="left:1038.35px;top:572px;font-size:9.4px;color:#fff;font-weight:700;letter-spacing:-0.248px;">97.5%</span>
<span class="t" style="left:1131.70px;top:572px;font-size:9.4px;color:#32325d;letter-spacing:-0.863px;">0%</span>
<span class="t" style="left:1215.40px;top:572px;font-size:9.4px;color:#32325d;letter-spacing:-0.358px;">1.3%</span>
<span class="t" style="left:1293.15px;top:572px;font-size:9.4px;color:#32325d;letter-spacing:-0.358px;">1.3%</span>
<span class="t" style="left:866.50px;top:595px;font-size:9.4px;color:#32325d;letter-spacing:-0.358px;">3.4%</span>
<span class="t" style="left:953.85px;top:595px;font-size:9.4px;color:#32325d;letter-spacing:-0.358px;">2.2%</span>
<span class="t" style="left:1044.80px;top:595px;font-size:9.4px;color:#32325d;letter-spacing:-0.863px;">0%</span>
<span class="t" style="left:1125.25px;top:595px;font-size:9.4px;color:#32325d;font-weight:700;letter-spacing:-0.248px;">65.2%</span>
<span class="t" style="left:1219.20px;top:595px;font-size:9.4px;color:#32325d;letter-spacing:-0.863px;">0%</span>
<span class="t" style="left:1290.50px;top:595px;font-size:9.4px;color:#32325d;letter-spacing:-0.248px;">29.2%</span>
<span class="t" style="left:870.30px;top:617px;font-size:9.4px;color:#32325d;letter-spacing:-0.863px;">0%</span>
<span class="t" style="left:957.65px;top:617px;font-size:9.4px;color:#32325d;letter-spacing:-0.863px;">0%</span>
<span class="t" style="left:1044.80px;top:617px;font-size:9.4px;color:#32325d;letter-spacing:-0.863px;">0%</span>
<span class="t" style="left:1131.70px;top:617px;font-size:9.4px;color:#32325d;letter-spacing:-0.863px;">0%</span>
<span class="t" style="left:1213.80px;top:617px;font-size:9.4px;color:#fff;font-weight:700;letter-spacing:-0.161px;">100%</span>
<span class="t" style="left:1296.95px;top:617px;font-size:9.4px;color:#32325d;letter-spacing:-0.863px;">0%</span>
<span class="t" style="left:867.55px;top:640px;font-size:9.4px;color:#32325d;letter-spacing:-0.017px;">0.68</span>
<span class="t" style="left:954.90px;top:640px;font-size:9.4px;color:#32325d;letter-spacing:-0.017px;">0.99</span>
<span class="t" style="left:1042.05px;top:640px;font-size:9.4px;color:#32325d;letter-spacing:-0.017px;">0.99</span>
<span class="t" style="left:1128.95px;top:640px;font-size:9.4px;color:#32325d;letter-spacing:-0.017px;">0.73</span>
<span class="t" style="left:1216.45px;top:640px;font-size:9.4px;color:#32325d;letter-spacing:-0.017px;">0.99</span>
<span class="t" style="left:733.50px;top:681px;font-size:14.6px;color:#32325d;-webkit-text-stroke:0.5px #32325d;letter-spacing:0.068px;">Feature explorer</span>
<svg class="abs" style="left:844px;top:680px" width="17" height="17" viewBox="844 680 17 17"><circle cx="852.55" cy="688.4" r="5.95" fill="none" stroke="#2f3259" stroke-width="1.45"/><path d="M850.7 687 Q850.8 685.6 852.6 685.6 Q854.5 685.6 854.5 687.1 Q854.5 688 853.5 688.6 Q852.6 689.1 852.6 689.9" fill="none" stroke="#2f3259" stroke-width="1.55"/><circle cx="852.6" cy="691.7" r="1.0" fill="#2f3259"/></svg>
<div class="hr" style="left:711px;top:705px;width:668.4px"></div>
<svg class="abs" style="left:733px;top:721px" width="651.3" height="271.2" viewBox="733 721 651.3 271.2"><rect x="733" y="721" width="651.3" height="271.2" fill="#fff"/><line x1="740.7" y1="721" x2="740.7" y2="992.2" stroke="#eeeeee" stroke-width="1"/><line x1="997.1" y1="721" x2="997.1" y2="992.2" stroke="#eeeeee" stroke-width="1"/><line x1="1124.8" y1="721" x2="1124.8" y2="992.2" stroke="#eeeeee" stroke-width="1"/><line x1="1252.5" y1="721" x2="1252.5" y2="992.2" stroke="#eeeeee" stroke-width="1"/><line x1="1380.2" y1="721" x2="1380.2" y2="992.2" stroke="#eeeeee" stroke-width="1"/><line x1="733" y1="765.2" x2="1384.3" y2="765.2" stroke="#eeeeee" stroke-width="1"/><line x1="733" y1="812.5" x2="1384.3" y2="812.5" stroke="#eeeeee" stroke-width="1"/><line x1="733" y1="860.2" x2="1384.3" y2="860.2" stroke="#eeeeee" stroke-width="1"/><line x1="733" y1="954.4" x2="1384.3" y2="954.4" stroke="#eeeeee" stroke-width="1"/><line x1="869.5" y1="721" x2="869.5" y2="992.2" stroke="#444" stroke-width="1"/><line x1="733" y1="907.4" x2="1384.3" y2="907.4" stroke="#444" stroke-width="1"/><g fill="#4cc82e" stroke="rgba(40,40,40,.55)" stroke-width="0.7"><circle cx="835.8" cy="868.2" r="4.3"/><circle cx="840.0" cy="868.5" r="4.3"/><circle cx="844.2" cy="868.1" r="4.3"/></g><g fill="#c9df2e" stroke="rgba(40,40,40,.55)" stroke-width="0.7"><circle cx="1165.2" cy="742.7" r="4.3"/><circle cx="1167.5" cy="741.9" r="4.3"/><circle cx="1170.6" cy="741.6" r="4.3"/><circle cx="1173.8" cy="741.1" r="4.3"/><circle cx="1180.0" cy="740.6" r="4.3"/><circle cx="1183.1" cy="740.3" r="4.3"/><circle cx="1185.0" cy="740.0" r="4.3"/></g><g fill="#c9df2e" stroke="rgba(40,40,40,.55)" stroke-width="0.7"><circle cx="1180.0" cy="773.9" r="4.3"/><circle cx="1186.2" cy="779.1" r="4.3"/><circle cx="1162.0" cy="805.9" r="4.3"/><circle cx="1175.6" cy="804.4" r="4.3"/></g><g fill="#9ee744" stroke="rgba(40,40,40,.55)" stroke-width="0.7"><circle cx="1142.3" cy="836.3" r="4.3"/><circle cx="1149.1" cy="835.0" r="4.3"/><circle cx="1146.6" cy="842.3" r="4.3"/><circle cx="1160.1" cy="841.3" r="4.3"/><circle cx="1143.6" cy="846.1" r="4.3"/><circle cx="1140.8" cy="853.9" r="4.3"/><circle cx="1148.1" cy="853.6" r="4.3"/><circle cx="1157.1" cy="850.1" r="4.3"/><circle cx="1151.1" cy="857.6" r="4.3"/><circle cx="1154.1" cy="861.2" r="4.3"/><circle cx="1158.1" cy="863.2" r="4.3"/><circle cx="1160.1" cy="862.2" r="4.3"/><circle cx="1152.1" cy="840.1" r="4.3"/><circle cx="1155.1" cy="846.1" r="4.3"/><circle cx="1145.1" cy="850.1" r="4.3"/><circle cx="1142.6" cy="840.1" r="4.3"/><circle cx="1152.6" cy="853.1" r="4.3"/><circle cx="1168.7" cy="844.3" r="4.3"/><circle cx="1174.2" cy="842.6" r="4.3"/><circle cx="1180.7" cy="844.6" r="4.3"/><circle cx="1184.7" cy="840.6" r="4.3"/><circle cx="1174.7" cy="847.1" r="4.3"/><circle cx="1181.7" cy="853.1" r="4.3"/><circle cx="1167.2" cy="852.1" r="4.3"/><circle cx="1171.7" cy="853.1" r="4.3"/><circle cx="1168.7" cy="860.2" r="4.3"/><circle cx="1165.2" cy="857.1" r="4.3"/><circle cx="1182.2" cy="861.2" r="4.3"/><circle cx="1185.2" cy="855.1" r="4.3"/><circle cx="1177.7" cy="849.1" r="4.3"/><circle cx="1180.2" cy="864.2" r="4.3"/><circle cx="1186.3" cy="857.6" r="4.3"/><circle cx="1176.7" cy="856.1" r="4.3"/><circle cx="1172.7" cy="860.2" r="4.3"/><circle cx="1153.6" cy="849.1" r="4.3"/><circle cx="1155.4" cy="855.1" r="4.3"/><circle cx="1146.6" cy="847.6" r="4.3"/><circle cx="1162.1" cy="859.7" r="4.3"/><circle cx="1178.2" cy="841.6" r="4.3"/><circle cx="1183.2" cy="848.1" r="4.3"/><circle cx="1175.2" cy="863.2" r="4.3"/><circle cx="1164.2" cy="848.6" r="4.3"/></g><g fill="#9ee744" stroke="rgba(40,40,40,.55)" stroke-width="0.7"><circle cx="1194.8" cy="822.3" r="4.3"/><circle cx="1201.1" cy="820.0" r="4.3"/></g><g fill="#3fdd3f" stroke="rgba(40,40,40,.55)" stroke-width="0.7"><circle cx="1165.2" cy="830.2" r="4.3"/><circle cx="1165.9" cy="825.5" r="4.3"/><circle cx="1167.5" cy="827.0" r="4.3"/><circle cx="1175.6" cy="828.1" r="4.3"/></g><g fill="#3fdd3f" stroke="rgba(40,40,40,.55)" stroke-width="0.7"><circle cx="1115.2" cy="823.1" r="4.3"/><circle cx="1126.9" cy="827.8" r="4.3"/><circle cx="1101.9" cy="820.0" r="4.3"/><circle cx="1209.7" cy="819.2" r="4.3"/><circle cx="1201.9" cy="813.8" r="4.3"/><circle cx="1163.6" cy="794.2" r="4.3"/></g><g fill="#4cc82e" stroke="rgba(40,40,40,.55)" stroke-width="0.7"><circle cx="1059.4" cy="969.4" r="4.3"/><circle cx="1062.8" cy="969.4" r="4.3"/><circle cx="1072.4" cy="972.9" r="4.3"/><circle cx="1073.8" cy="971.5" r="4.3"/><circle cx="1071.0" cy="965.3" r="4.3"/><circle cx="1066.7" cy="961.5" r="4.3"/><circle cx="1069.4" cy="970.5" r="4.3"/></g><g fill="#4cc82e" stroke="rgba(40,40,40,.55)" stroke-width="0.7"><circle cx="1106.6" cy="885.6" r="4.3"/></g><g fill="#4de08a" stroke="rgba(40,40,40,.55)" stroke-width="0.7"><circle cx="1275.4" cy="839.8" r="4.3"/><circle cx="1280.7" cy="839.8" r="4.3"/><circle cx="1286.4" cy="838.8" r="4.3"/><circle cx="1287.9" cy="837.9" r="4.3"/><circle cx="1291.7" cy="838.8" r="4.3"/><circle cx="1295.6" cy="840.3" r="4.3"/><circle cx="1292.7" cy="846.5" r="4.3"/><circle cx="1294.1" cy="848.0" r="4.3"/><circle cx="1288.8" cy="842.2" r="4.3"/><circle cx="1302.8" cy="841.7" r="4.3"/><circle cx="1307.6" cy="837.9" r="4.3"/><circle cx="1310.5" cy="839.8" r="4.3"/><circle cx="1313.8" cy="837.9" r="4.3"/><circle cx="1319.6" cy="839.8" r="4.3"/><circle cx="1325.4" cy="838.8" r="4.3"/><circle cx="1316.2" cy="835.0" r="4.3"/><circle cx="1317.7" cy="837.4" r="4.3"/><circle cx="1303.3" cy="848.9" r="4.3"/><circle cx="1331.6" cy="844.6" r="4.3"/><circle cx="1334.0" cy="845.6" r="4.3"/><circle cx="1336.0" cy="847.0" r="4.3"/><circle cx="1341.7" cy="848.0" r="4.3"/><circle cx="1325.4" cy="849.9" r="4.3"/><circle cx="1322.0" cy="854.2" r="4.3"/><circle cx="1314.8" cy="850.4" r="4.3"/><circle cx="1316.7" cy="851.3" r="4.3"/><circle cx="1305.2" cy="859.0" r="4.3"/><circle cx="1306.2" cy="858.1" r="4.3"/><circle cx="1311.9" cy="857.1" r="4.3"/><circle cx="1310.5" cy="856.2" r="4.3"/><circle cx="1331.6" cy="856.2" r="4.3"/><circle cx="1333.6" cy="856.6" r="4.3"/><circle cx="1336.9" cy="854.7" r="4.3"/><circle cx="1338.8" cy="854.2" r="4.3"/><circle cx="1346.5" cy="854.7" r="4.3"/><circle cx="1342.7" cy="855.2" r="4.3"/><circle cx="1344.1" cy="853.3" r="4.3"/><circle cx="1318.7" cy="841.7" r="4.3"/><circle cx="1321.5" cy="840.8" r="4.3"/><circle cx="1303.8" cy="844.6" r="4.3"/><circle cx="1336.9" cy="848.0" r="4.3"/><circle cx="1339.8" cy="852.3" r="4.3"/><circle cx="1327.3" cy="852.3" r="4.3"/><circle cx="1331.2" cy="855.2" r="4.3"/></g><g fill="#3fdd3f" stroke="rgba(40,40,40,.55)" stroke-width="0.7"><circle cx="1296.5" cy="858.1" r="4.3"/></g><g fill="#d6245c" stroke="rgba(40,40,40,.55)" stroke-width="0.7"><circle cx="1148.8" cy="791.9" r="4.3"/><circle cx="1151.1" cy="792.2" r="4.3"/><circle cx="1106.6" cy="819.2" r="4.3"/><circle cx="1101.9" cy="812.2" r="4.3"/><circle cx="1115.9" cy="815.3" r="4.3"/><circle cx="1118.3" cy="815.6" r="4.3"/><circle cx="1125.3" cy="816.1" r="4.3"/><circle cx="1132.3" cy="816.6" r="4.3"/><circle cx="1142.2" cy="818.8" r="4.3"/><circle cx="1183.9" cy="814.2" r="4.3"/><circle cx="1187.8" cy="814.8" r="4.3"/><circle cx="1196.4" cy="813.3" r="4.3"/><circle cx="1208.9" cy="816.1" r="4.3"/><circle cx="1205.0" cy="813.8" r="4.3"/></g><g fill="#d62c1f" stroke="rgba(40,40,40,.55)" stroke-width="0.7"><circle cx="1173.4" cy="784.4" r="4.3"/><circle cx="1178.1" cy="779.4" r="4.3"/><circle cx="1183.1" cy="777.0" r="4.3"/><circle cx="1187.8" cy="775.0" r="4.3"/><circle cx="1153.4" cy="792.7" r="4.3"/><circle cx="1157.7" cy="792.7" r="4.3"/><circle cx="1161.2" cy="800.5" r="4.3"/><circle cx="1169.8" cy="801.2" r="4.3"/><circle cx="1173.8" cy="802.0" r="4.3"/><circle cx="1173.0" cy="799.7" r="4.3"/><circle cx="1165.6" cy="800.5" r="4.3"/><circle cx="1101.1" cy="813.8" r="4.3"/><circle cx="1099.5" cy="818.4" r="4.3"/><circle cx="1121.4" cy="825.0" r="4.3"/><circle cx="1128.1" cy="822.8" r="4.3"/><circle cx="1197.2" cy="818.0" r="4.3"/><circle cx="1204.7" cy="818.8" r="4.3"/></g><g fill="#d62c1f" stroke="rgba(40,40,40,.55)" stroke-width="0.7"><circle cx="1175.2" cy="859.4" r="4.3"/></g><g fill="#d6245c" stroke="rgba(40,40,40,.55)" stroke-width="0.7"><circle cx="1162.6" cy="864.9" r="4.3"/></g><g fill="#e8303c" stroke="rgba(40,40,40,.55)" stroke-width="0.7"><circle cx="1108.7" cy="884.6" r="4.3"/></g><rect x="733" y="721" width="136" height="146" fill="#fff"/><line x1="869.5" y1="721" x2="869.5" y2="992.2" stroke="#444" stroke-width="1"/><circle cx="751.2" cy="733.8" r="4.3" fill="#c9df2e" stroke="rgba(68,68,68,.55)" stroke-width="0.8"/><circle cx="751.2" cy="751.1" r="4.3" fill="#9ee744" stroke="rgba(68,68,68,.55)" stroke-width="0.8"/><circle cx="751.2" cy="768.3" r="4.3" fill="#4cc82e" stroke="rgba(68,68,68,.55)" stroke-width="0.8"/><circle cx="751.2" cy="785.6" r="4.3" fill="#3fdd3f" stroke="rgba(68,68,68,.55)" stroke-width="0.8"/><circle cx="751.2" cy="802.8" r="4.3" fill="#4de08a" stroke="rgba(68,68,68,.55)" stroke-width="0.8"/><circle cx="751.2" cy="820.1" r="4.3" fill="#d6245c" stroke="rgba(68,68,68,.55)" stroke-width="0.8"/><circle cx="751.2" cy="837.4" r="4.3" fill="#e8303c" stroke="rgba(68,68,68,.55)" stroke-width="0.8"/><circle cx="751.2" cy="854.6" r="4.3" fill="#d62c1f" stroke="rgba(68,68,68,.55)" stroke-width="0.8"/></svg>
<span class="t" style="left:769.60px;top:730px;font-size:10.9px;color:#2c3152;letter-spacing:0.224px;">idle - correct</span>
<span class="t" style="left:769.60px;top:747px;font-size:10.9px;color:#2c3152;letter-spacing:0.345px;">medium - correct</span>
<span class="t" style="left:769.60px;top:764px;font-size:10.9px;color:#2c3152;letter-spacing:0.286px;">rough - correct</span>
<span class="t" style="left:769.60px;top:781px;font-size:10.9px;color:#2c3152;letter-spacing:0.316px;">smooth - correct</span>
<span class="t" style="left:769.60px;top:799px;font-size:10.9px;color:#2c3152;letter-spacing:0.298px;">sprint - correct</span>
<span class="t" style="left:769.60px;top:816px;font-size:10.9px;color:#2c3152;letter-spacing:0.254px;">idle - incorrect</span>
<span class="t" style="left:769.60px;top:833px;font-size:10.9px;color:#2c3152;letter-spacing:0.307px;">rough - incorrect</span>
<span class="t" style="left:769.60px;top:850px;font-size:10.9px;color:#2c3152;letter-spacing:0.332px;">smooth - incorrect</span>
</body>
</html>
